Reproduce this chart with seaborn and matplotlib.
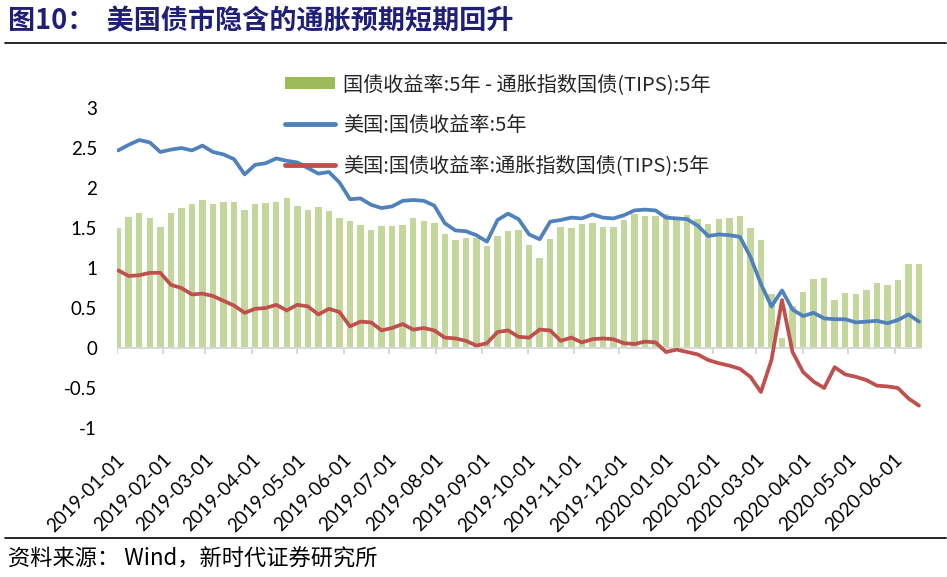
import pandas as pd
import matplotlib
matplotlib.use("Agg")
import matplotlib.pyplot as plt
import matplotlib.transforms as mtransforms
from matplotlib.patches import Patch
from matplotlib.lines import Line2D
import seaborn as sns

# weekly readings (mid-week) taken off the reference chart
weeks = pd.date_range("2019-01-02", periods=77, freq="7D")

nominal_5y = [2.47, 2.54, 2.60, 2.57, 2.45, 2.48, 2.50, 2.47, 2.53, 2.45,
              2.42, 2.36, 2.17, 2.29, 2.31, 2.37, 2.34, 2.32, 2.25, 2.18,
              2.20, 2.07, 1.86, 1.87, 1.79, 1.75, 1.77, 1.84, 1.85, 1.84,
              1.78, 1.56, 1.47, 1.46, 1.41, 1.33, 1.60, 1.68, 1.61, 1.42,
              1.36, 1.58, 1.60, 1.63, 1.62, 1.67, 1.63, 1.62, 1.66, 1.72,
              1.73, 1.72, 1.63, 1.62, 1.61, 1.53, 1.40, 1.42, 1.41, 1.39,
              1.14, 0.80, 0.52, 0.72, 0.48, 0.40, 0.44, 0.37, 0.36, 0.36,
              0.32, 0.33, 0.34, 0.31, 0.35, 0.42, 0.33]

tips_5y = [0.97, 0.90, 0.91, 0.94, 0.94, 0.79, 0.75, 0.67, 0.68, 0.65,
           0.59, 0.53, 0.44, 0.49, 0.50, 0.54, 0.47, 0.54, 0.52, 0.42,
           0.49, 0.45, 0.27, 0.33, 0.32, 0.22, 0.25, 0.30, 0.23, 0.25,
           0.22, 0.13, 0.12, 0.09, 0.03, 0.06, 0.20, 0.22, 0.14, 0.13,
           0.23, 0.22, 0.09, 0.13, 0.07, 0.11, 0.12, 0.11, 0.06, 0.05,
           0.08, 0.07, -0.05, -0.02, -0.05, -0.08, -0.15, -0.19, -0.22, -0.26,
           -0.36, -0.55, -0.15, 0.60, -0.05, -0.30, -0.42, -0.50, -0.24, -0.33,
           -0.36, -0.40, -0.47, -0.48, -0.50, -0.63, -0.72]

month_ticks = pd.date_range("2019-01-01", "2020-06-01", freq="MS")
y_ticks = [-1, -0.5, 0, 0.5, 1, 1.5, 2, 2.5, 3]
y_labels = ["-1", "-0.5", "0", "0.5", "1", "1.5", "2", "2.5", "3"]

labels = ["国债收益率:5年 - 通胀指数国债(TIPS):5年",
          "美国:国债收益率:5年",
          "美国:国债收益率:通胀指数国债(TIPS):5年"]

df = pd.DataFrame({"date": weeks, "nominal": nominal_5y, "tips": tips_5y})
df["spread"] = df["nominal"] - df["tips"]

GREEN = "#9BBB59"
BLUE = "#4F81BD"
RED = "#C0504D"

sns.set_theme(style="white")
plt.rcParams["font.family"] = ["Noto Sans CJK SC", "DejaVu Sans"]

fig = plt.figure(figsize=(9.47, 5.77), dpi=100)
ax = fig.add_axes([0.1232, 0.2582, 0.8504, 0.5546])

# bars: one block per trading week
ax.bar(df["date"], df["spread"], width=4.3, color=GREEN, alpha=0.6,
       linewidth=0, zorder=1)
ax.axhline(0, color="#D9D9D9", lw=1.5, zorder=2)
ax.vlines(month_ticks, -0.07, 0, color="#D9D9D9", lw=1.5, zorder=2)

sns.lineplot(data=df, x="date", y="nominal", color=BLUE, linewidth=2.7,
             ax=ax, zorder=3)
sns.lineplot(data=df, x="date", y="tips", color=RED, linewidth=2.7,
             ax=ax, zorder=3)

ax.set_xlim(pd.Timestamp("2019-01-01"), pd.Timestamp("2020-06-19"))
ax.set_ylim(-1, 3)
for s in ax.spines.values():
    s.set_visible(False)
ax.set_xlabel("")
ax.set_ylabel("")

ax.set_yticks(y_ticks)
ax.set_yticklabels(y_labels, fontfamily="Lato", fontsize=13.5, color="black")
ax.tick_params(axis="y", length=0, pad=14)

ax.set_xticks(month_ticks)
ax.set_xticklabels([d.strftime("%Y-%m-%d") for d in month_ticks],
                   fontfamily="Lato", fontsize=13.5, color="black",
                   rotation=45, ha="right", va="center", rotation_mode="anchor")
ax.tick_params(axis="x", length=0, pad=21)
shift = mtransforms.ScaledTranslation(0.05, 0, fig.dpi_scale_trans)
for lbl in ax.get_xticklabels():
    lbl.set_transform(lbl.get_transform() + shift)

handles = [Patch(facecolor=GREEN, edgecolor="none"),
           Line2D([0], [0], color=BLUE, lw=3.5),
           Line2D([0], [0], color=RED, lw=3.5)]
fig.legend(handles, labels, loc="upper left",
           bbox_to_anchor=(285 / 947, 1 - 74 / 577),
           bbox_transform=fig.transFigure, frameon=False, fontsize=14.5,
           handlelength=2.5, handleheight=0.6, handletextpad=0.4,
           labelspacing=0.98, borderpad=0, borderaxespad=0)

fig.text(8 / 947, 1 - 21.5 / 577, "图10：  美国债市隐含的通胀预期短期回升",
         fontsize=19.5, fontweight="bold", color="#1F1F7A", va="center", ha="left")
fig.add_artist(Line2D([5 / 947, 946 / 947], [1 - 43.3 / 577] * 2,
                      transform=fig.transFigure, color="black", lw=1.2))
fig.add_artist(Line2D([5 / 947, 946 / 947], [1 - 538 / 577] * 2,
                      transform=fig.transFigure, color="black", lw=1.2))
fig.text(8 / 947, 1 - 559 / 577, "资料来源： Wind，新时代证券研究所",
         fontsize=16, color="black", va="center", ha="left")

fig.savefig("out.png", dpi=100)
